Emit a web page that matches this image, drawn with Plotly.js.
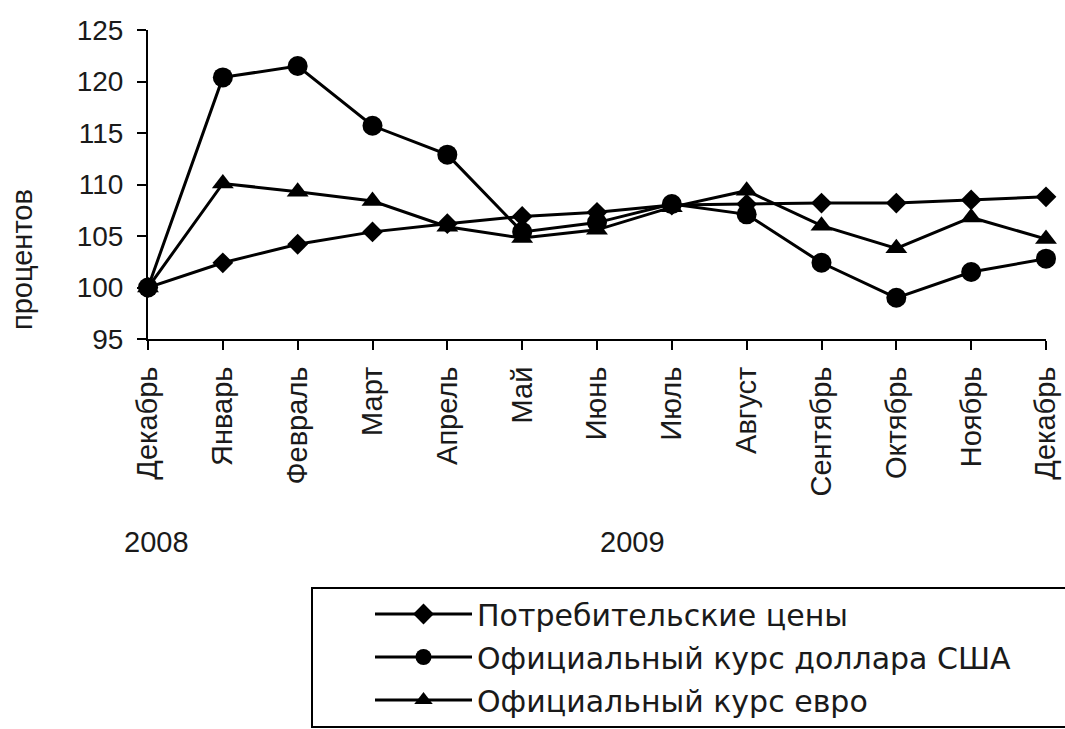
<!DOCTYPE html>
<html>
<head>
<meta charset="utf-8">
<script src="https://cdn.plot.ly/plotly-3.0.1.min.js"></script>
<style>html,body{margin:0;padding:0;background:#fff;}#chart{width:1065px;height:729px;}</style>
</head>
<body>
<div id="chart"></div>
<script>
var months = ["Декабрь","Январь","Февраль","Март","Апрель","Май","Июнь","Июль","Август","Сентябрь","Октябрь","Ноябрь","Декабрь"];
var xIdx = [0,1,2,3,4,5,6,7,8,9,10,11,12];
var cpi  = [100, 102.4, 104.2, 105.4, 106.2, 106.9, 107.3, 108.0, 108.1, 108.2, 108.2, 108.5, 108.8];
var usd  = [100, 120.4, 121.5, 115.7, 112.9, 105.4, 106.3, 108.1, 107.1, 102.4, 99.0, 101.5, 102.8];
var eur  = [100, 110.1, 109.3, 108.4, 105.9, 104.8, 105.6, 107.8, 109.4, 106.0, 103.8, 106.8, 104.7];
var seriesNames = ["Потребительские цены","Официальный курс доллара США","Официальный курс евро"];
var years = ["2008","2009"];

var FONT = "Liberation Sans, Arial, sans-serif";
var LFONT = "DejaVu Sans, sans-serif";
var TXT = "#1a1a1a";
function tr(y, name, sym, size, grp){
  return {x:xIdx, y:y, name:name, type:"scatter", mode:"lines+markers",
    line:{color:"#000", width:3}, marker:{symbol:sym, size:size, color:"#000"},
    cliponaxis:false, legendgroup:grp};
}
var data = [
  tr(cpi, seriesNames[0], "diamond", 16, "a"),
  tr(usd, seriesNames[1], "circle", 20, "b"),
  tr(eur, seriesNames[2], "triangle-up", 19, "c")
];
function py(p){ return (339 - p) / 309; }
var layout = {
  width:1065, height:729,
  margin:{l:148, r:19, t:30, b:390, autoexpand:false},
  paper_bgcolor:"#fff", plot_bgcolor:"#fff",
  font:{family:FONT, color:TXT, size:29},
  showlegend:true,
  legend:{x:(370-148)/898, xanchor:"left", y:py(588), yanchor:"top",
    font:{size:30, family:LFONT, color:TXT},
    bgcolor:"rgba(0,0,0,0)", borderwidth:0, tracegroupgap:1, traceorder:"grouped", itemwidth:97},
  xaxis:{range:[0,12], tickvals:xIdx, ticktext:months, tickangle:-90, ticks:"outside", ticklen:9, tickwidth:2,
    tickcolor:"#000", showline:true, linecolor:"#000", linewidth:2, showgrid:false, zeroline:false,
    tickfont:{size:29, family:FONT, color:TXT}, ticklabelstandoff:5, fixedrange:true},
  yaxis:{range:[95,125], dtick:5, tick0:95, ticks:"outside", ticklen:9, tickwidth:2, tickcolor:"#000",
    showline:true, linecolor:"#000", linewidth:2, showgrid:false, zeroline:false,
    tickfont:{size:28, family:FONT, color:TXT}, ticklabelstandoff:8, fixedrange:true},
  annotations:[
    {text:"процентов", xref:"paper", yref:"paper", x:(22-148)/898, y:py(260), textangle:-90,
      showarrow:false, font:{size:29, family:FONT, color:TXT}, xanchor:"center", yanchor:"middle"},
    {text:years[0], xref:"paper", yref:"paper", x:(156-148)/898, y:py(542), showarrow:false,
      font:{size:29, family:FONT, color:TXT}, xanchor:"center", yanchor:"middle"},
    {text:years[1], xref:"paper", yref:"paper", x:(632-148)/898, y:py(542), showarrow:false,
      font:{size:29, family:FONT, color:TXT}, xanchor:"center", yanchor:"middle"}
  ],
  shapes:[
    {type:"rect", xref:"paper", yref:"paper", x0:(312-148)/898, x1:1.2, y0:py(727), y1:py(588),
      line:{color:"#000", width:2}, fillcolor:"rgba(0,0,0,0)", layer:"below"}
  ]
};
Plotly.newPlot("chart", data, layout, {displayModeBar:false, staticPlot:true});
</script>
</body>
</html>
